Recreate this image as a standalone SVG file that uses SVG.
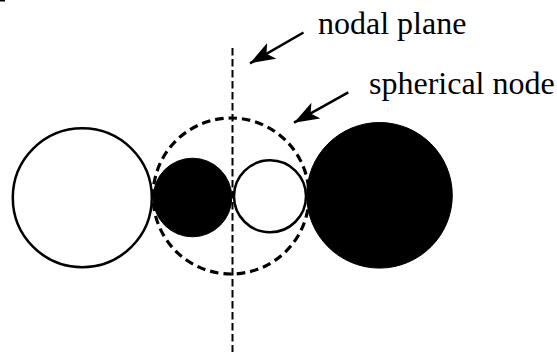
<svg xmlns="http://www.w3.org/2000/svg" width="557" height="352" viewBox="0 0 557 352">
<style>
.lbl{font-family:"Liberation Serif","Times New Roman",serif;font-size:32px;fill:#000}
.open{fill:#fff;stroke:#000;stroke-width:2.5}
.solid{fill:#000;stroke:#000;stroke-width:1}
.arrow{stroke:#000;stroke-width:2.5;fill:none}
</style>
<defs>
<marker id="ah" markerUnits="userSpaceOnUse" markerWidth="28" markerHeight="20" refX="25" refY="9" orient="auto">
<path d="M0,0 L25,9 L0,18 L6,9 Z" fill="#000"/>
</marker>
</defs>
<rect x="0" y="0" width="5" height="1.5" fill="#000"/>
<g id="left-open"><circle class="open" cx="82.3" cy="197.7" r="69.5"/></g>
<g id="small-solid"><circle class="solid" cx="192.5" cy="197.5" r="39.3"/></g>
<g id="small-open"><circle class="open" cx="270" cy="196.3" r="36"/></g>
<g id="big-solid"><circle class="solid" cx="379.5" cy="195.3" r="72.8"/></g>
<g id="spherical-node"><circle cx="231" cy="196" r="78" fill="none" stroke="#000" stroke-width="3.2" stroke-dasharray="8.5,5"/></g>
<g id="nodal-plane"><line x1="232.5" y1="48" x2="232.5" y2="352" stroke="#000" stroke-width="2" stroke-dasharray="7.5,3.5"/></g>
<g id="connectors">
<line class="arrow" x1="303.5" y1="32.5" x2="250" y2="63.3" marker-end="url(#ah)"/>
<line class="arrow" x1="348.3" y1="92.3" x2="294" y2="122.7" marker-end="url(#ah)"/>
</g>
<g id="labels">
<text class="lbl" x="318" y="34">nodal plane</text>
<text class="lbl" x="369" y="94">spherical node</text>
</g>
</svg>
